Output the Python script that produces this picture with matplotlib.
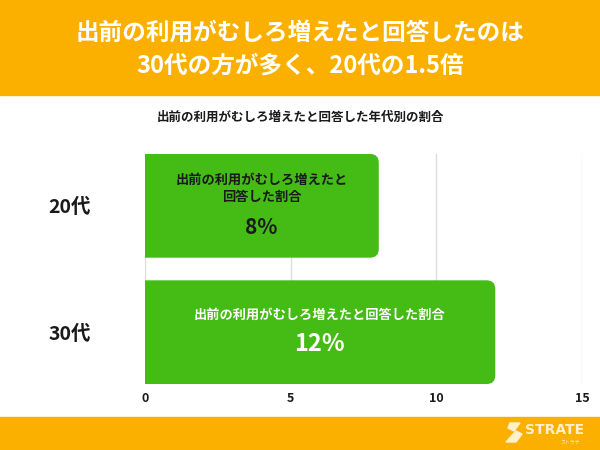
import matplotlib
matplotlib.use("Agg")
import matplotlib.pyplot as plt
from matplotlib.patches import Rectangle, FancyBboxPatch, Polygon

plt.rcParams["font.family"] = ["Noto Sans CJK JP", "DejaVu Sans"]

# data
ages = ["20代", "30代"]
rates = [8, 12]
bar_labels = ["出前の利用がむしろ増えたと\n回答した割合", "出前の利用がむしろ増えたと回答した割合"]
text_colors = ["#1a1a1a", "white"]
x_ticks = [0, 5, 10, 15]

title_lines = ["出前の利用がむしろ増えたと回答したのは", "30代の方が多く、20代の1.5倍"]
subtitle = "出前の利用がむしろ増えたと回答した年代別の割合"

ORANGE = "#FBB000"
GREEN = "#45BB16"
W, H = 600, 450

fig = plt.figure(figsize=(6, 4.5), dpi=100)
fig.patch.set_facecolor("white")

# header / footer bands
fig.patches.append(Rectangle((0, 1 - 95 / H), 1, 95 / H, transform=fig.transFigure,
                             color=ORANGE, zorder=0))
fig.patches.append(Rectangle((0, 0), 1, 33 / H, transform=fig.transFigure,
                             color=ORANGE, zorder=0))
fig.text(0.5, 1 - 33 / H, title_lines[0], ha="center", va="center",
         color="white", fontsize=17, fontweight="bold")
fig.text(0.5, 1 - 66 / H, title_lines[1], ha="center", va="center",
         color="white", fontsize=17, fontweight="bold")
fig.text(0.5, 1 - 117 / H, subtitle, ha="center", va="center",
         color="#1a1a1a", fontsize=9, fontweight="bold")

# logo
logo_c = "#FFF1CC"
s = [(510, 423), (520, 423), (514, 431), (508, 428)]
s2 = [(516, 431), (522, 434), (516, 442), (506, 442)]
for poly in (s, s2):
    fig.patches.append(Polygon([(x / W, 1 - y / H) for x, y in poly], closed=True,
                               transform=fig.transFigure, color=logo_c, zorder=3))
fig.text(525 / W, 1 - 430 / H, "STRATE", ha="left", va="center",
         color=logo_c, fontsize=10, fontweight="bold", family="DejaVu Sans")
fig.text(580 / W, 1 - 442 / H, "ストラテ", ha="right", va="center",
         color=logo_c, fontsize=3.5)

# axes
left, right, top, bottom = 145, 582, 154, 384
ax = fig.add_axes([left / W, 1 - bottom / H, (right - left) / W, (bottom - top) / H])
ax.set_xlim(0, 15)
ax.set_ylim(1.41, -0.41)
for sp in ax.spines.values():
    sp.set_visible(False)
ax.set_xticks(x_ticks)
ax.set_xticklabels([str(t) for t in x_ticks], fontsize=9, fontweight="bold", color="#1a1a1a")
ax.tick_params(axis="x", length=0, pad=6)
ax.set_yticks(range(len(ages)))
ax.set_yticklabels(ages, fontsize=14, fontweight="bold", color="#1a1a1a")
ax.tick_params(axis="y", length=0, pad=54)
for lab in ax.get_yticklabels():
    lab.set_horizontalalignment("center")
ax.grid(axis="x", color="#DDDDDD", linewidth=1)
ax.set_axisbelow(True)

bars = ax.barh(range(len(ages)), rates, height=0.81, color=GREEN)

# rounded corners on the bar ends
fig.canvas.draw()
px_x = ax.transData.transform((1, 0))[0] - ax.transData.transform((0, 0))[0]
px_y = abs(ax.transData.transform((0, 1))[1] - ax.transData.transform((0, 0))[1])
aspect = px_x / px_y
r = 8 / px_x
for b in bars:
    x0, y0, w, h = b.get_x(), b.get_y(), b.get_width(), b.get_height()
    b.set_visible(False)
    ax.add_patch(FancyBboxPatch((x0 - 2 * r, y0), w + 2 * r, h,
                                boxstyle=f"round,pad=0,rounding_size={r}",
                                mutation_aspect=aspect, color=GREEN, zorder=2))

# labels inside bars
ax.text(rates[0] / 2, -0.14, bar_labels[0], ha="center", va="center",
        fontsize=9.5, fontweight="bold", color=text_colors[0], linespacing=1.3, zorder=3)
ax.text(rates[0] / 2, 0.17, f"{rates[0]}%", ha="center", va="center",
        fontsize=15, fontweight="bold", color=text_colors[0], zorder=3)
ax.text(rates[1] / 2, 0.865, bar_labels[1], ha="center", va="center",
        fontsize=9.5, fontweight="bold", color=text_colors[1], zorder=3)
ax.text(rates[1] / 2, 1.09, f"{rates[1]}%", ha="center", va="center",
        fontsize=17, fontweight="bold", color=text_colors[1], zorder=3)

fig.savefig("out.png", dpi=100)
